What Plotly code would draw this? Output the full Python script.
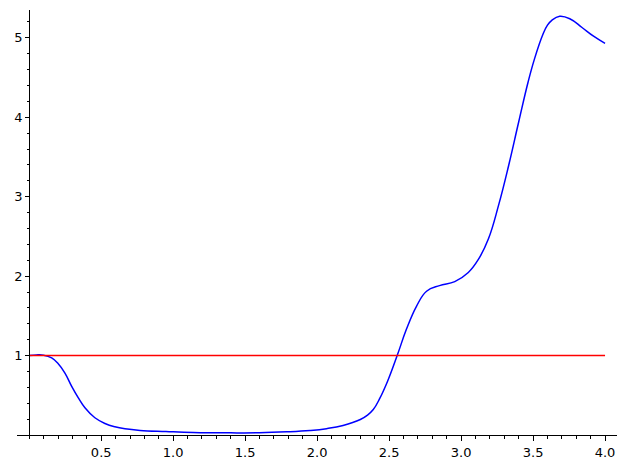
import plotly.graph_objects as go

# blue curve
curve_x = [0.0, 0.05, 0.1, 0.156, 0.20, 0.248, 0.294, 0.34, 0.387, 0.456, 0.526,
           0.595, 0.665, 0.77, 0.95, 1.14, 1.4, 1.6, 1.79, 1.95, 2.065, 2.18,
           2.30, 2.35, 2.39, 2.435, 2.49, 2.556, 2.62, 2.69, 2.76, 2.85, 2.956,
           3.05, 3.12, 3.19, 3.26, 3.33, 3.40, 3.465, 3.51, 3.57, 3.60, 3.63,
           3.685, 3.755, 3.84, 3.92, 4.0]
curve_y = [1.0, 1.008, 1.005, 0.97, 0.90, 0.78, 0.615, 0.47, 0.343, 0.217, 0.145,
           0.103, 0.078, 0.058, 0.044, 0.032, 0.027, 0.028, 0.04, 0.057, 0.08, 0.12,
           0.195, 0.25, 0.32, 0.46, 0.68, 1.0, 1.33, 1.62, 1.81, 1.88, 1.93,
           2.045, 2.21, 2.47, 2.89, 3.39, 3.94, 4.44, 4.735, 5.05, 5.16, 5.22,
           5.27, 5.24, 5.13, 5.02, 4.93]

# red constant line
ref_x = [0.0, 4.0]
ref_y = [1.0, 1.0]

x_ticks = [0, 0.5, 1.0, 1.5, 2.0, 2.5, 3.0, 3.5, 4.0]
x_labels = ["", "0.5", "1.0", "1.5", "2.0", "2.5", "3.0", "3.5", "4.0"]
x_minor = [round(i * 0.1, 1) for i in range(41)]
y_ticks = [1, 2, 3, 4, 5]
y_labels = ["1", "2", "3", "4", "5"]
y_minor = [round(i * 0.2, 1) for i in range(1, 27)]

X_RANGE = [-0.085, 4.083]
Y_RANGE = [0, 5.35]

fig = go.Figure()
fig.add_trace(go.Scatter(x=curve_x, y=curve_y, mode="lines",
                         line=dict(color="blue", width=1.5, shape="spline", smoothing=1.2)))
fig.add_trace(go.Scatter(x=ref_x, y=ref_y, mode="lines",
                         line=dict(color="red", width=1.5)))

axis_font = dict(family="DejaVu Sans", size=13, color="black")

# page body adds an 8px margin, so the figure is 8px smaller each way
fig.update_layout(
    width=618, height=461,
    margin=dict(l=9, r=9, t=2, b=34, autoexpand=False),
    paper_bgcolor="white", plot_bgcolor="white",
    showlegend=False,
    font=axis_font,
    xaxis=dict(
        range=X_RANGE, showgrid=False, zeroline=False, automargin=False,
        showline=True, linecolor="black", linewidth=1,
        tickmode="array", tickvals=x_ticks, ticktext=x_labels,
        ticks="outside", ticklen=5, tickwidth=1, tickcolor="black",
        minor=dict(tickmode="array", tickvals=x_minor, ticks="outside",
                   ticklen=3, tickwidth=1, tickcolor="black", showgrid=False),
        tickfont=axis_font,
    ),
    yaxis=dict(
        range=Y_RANGE, showgrid=False, zeroline=False, automargin=False,
        anchor="free", position=0.085 / (X_RANGE[1] - X_RANGE[0]),
        showline=True, linecolor="black", linewidth=1,
        tickmode="array", tickvals=y_ticks, ticktext=y_labels,
        ticks="outside", ticklen=4, tickwidth=1, tickcolor="black",
        minor=dict(tickmode="array", tickvals=y_minor, ticks="outside",
                   ticklen=2, tickwidth=1, tickcolor="black", showgrid=False),
        tickfont=axis_font,
    ),
)

fig.write_html("out.html")
